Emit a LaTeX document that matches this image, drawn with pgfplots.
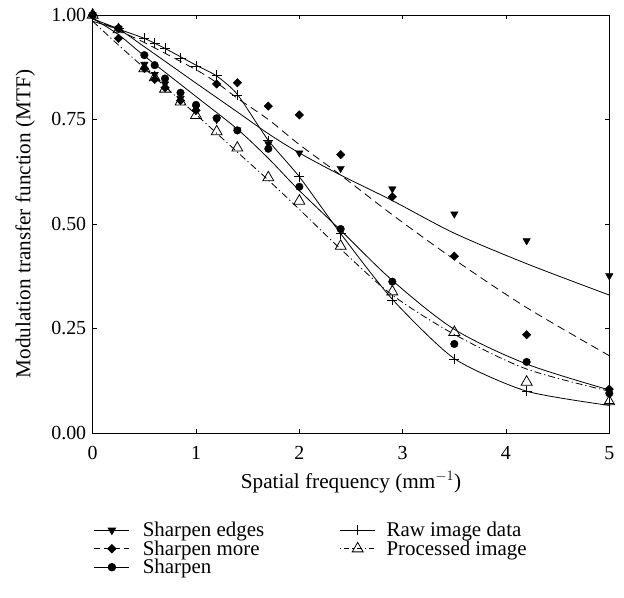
\documentclass[border=0pt]{standalone}
\usepackage{fontspec}
\setmainfont{Liberation Serif}
\usepackage{pgfplots}
\usepackage{pgfplotstable}
\pgfplotsset{compat=1.18}

% measured points
\pgfplotstableread{
x y
0 1.000
0.25 0.968
0.5 0.882
0.6 0.858
0.7 0.835
0.85 0.800
1.0 0.778
1.2 0.750
1.4 0.725
1.7 0.692
2.0 0.670
2.4 0.633
2.9 0.584
3.5 0.524
4.2 0.460
5.0 0.376
}\edgespts
\pgfplotstableread{
x y
0 1.000
0.25 0.944
0.5 0.872
0.6 0.846
0.7 0.826
0.85 0.795
1.0 0.772
1.2 0.835
1.4 0.838
1.7 0.782
2.0 0.761
2.4 0.666
2.9 0.565
3.5 0.423
4.2 0.235
5.0 0.105
}\morepts
\pgfplotstableread{
x y
0 1.000
0.25 0.968
0.5 0.904
0.6 0.880
0.7 0.848
0.85 0.814
1.0 0.785
1.2 0.753
1.4 0.724
1.7 0.680
2.0 0.589
2.4 0.488
2.9 0.362
3.5 0.213
4.2 0.170
5.0 0.095
}\sharppts
\pgfplotstableread{
x y
0 1.000
0.25 0.968
0.5 0.944
0.6 0.932
0.7 0.920
0.85 0.896
1.0 0.878
1.2 0.856
1.4 0.808
1.7 0.699
2.0 0.613
2.4 0.477
2.9 0.318
3.5 0.177
4.2 0.100
5.0 0.072
}\rawpts
\pgfplotstableread{
x y
0 1.000
0.25 0.965
0.5 0.872
0.6 0.850
0.7 0.823
0.85 0.792
1.0 0.760
1.2 0.721
1.4 0.682
1.7 0.611
2.0 0.555
2.4 0.447
2.9 0.338
3.5 0.241
4.2 0.122
5.0 0.075
}\procpts

% fitted curves
\pgfplotstableread{
x y
0 0.990
0.25 0.966
0.5 0.924
1.0 0.837
1.4 0.768
1.7 0.716
2.0 0.670
2.4 0.617
2.9 0.556
3.5 0.478
4.2 0.405
5.0 0.330
}\edgescurve
\pgfplotstableread{
x y
0 0.992
0.25 0.963
0.5 0.934
1.0 0.869
1.2 0.838
1.4 0.801
1.7 0.750
2.0 0.690
2.4 0.617
2.9 0.522
3.5 0.415
4.2 0.300
5.0 0.185
}\morecurve
\pgfplotstableread{
x y
0 0.992
0.25 0.953
0.5 0.902
1.0 0.805
1.4 0.727
1.7 0.657
2.0 0.580
2.4 0.485
2.9 0.365
3.5 0.248
4.2 0.165
5.0 0.103
}\sharpcurve
\pgfplotstableread{
x y
0 0.985
0.25 0.966
0.5 0.944
0.7 0.920
1.0 0.880
1.2 0.854
1.4 0.810
1.7 0.700
2.0 0.613
2.4 0.477
2.9 0.320
3.5 0.178
4.2 0.100
5.0 0.066
}\rawcurve
\pgfplotstableread{
x y
0 0.985
0.25 0.928
0.5 0.873
1.0 0.762
1.4 0.672
1.7 0.605
2.0 0.535
2.4 0.440
2.9 0.330
3.5 0.236
4.2 0.153
5.0 0.100
}\proccurve

\begin{document}
\begin{tikzpicture}
\begin{axis}[
  name=ax, at={(0,0)}, anchor=south west,
  scale only axis, width=516.6bp, height=418bp,
  xmin=0, xmax=5, ymin=0, ymax=1,
  xtick={0,1,2,3,4,5},
  ytick={0,0.25,0.5,0.75,1},
  tick align=inside, major tick length=4.5bp,
  axis line style={line width=0.8bp},
  every tick/.style={black, line width=0.8bp},
  /pgf/number format/assume math mode=true,
  yticklabel style={/pgf/number format/fixed, /pgf/number format/fixed zerofill, /pgf/number format/precision=2, xshift=-3bp},
  xticklabel style={yshift=-10bp},
  tick label style={font=\fontsize{20}{20}\selectfont},
  label style={font=\fontsize{21.3}{21.3}\selectfont},
  xlabel={Spatial frequency (mm$^{-1}$)},
  xlabel style={at={(axis description cs:0.5,0)}, anchor=base, yshift=-55bp},
  ylabel={Modulation transfer function (MTF)},
  ylabel style={at={(axis description cs:-0.1305,0.5)}, anchor=center, rotate=0},
  legend columns=2,
  legend cell align=left,
  legend image code/.code={\draw[#1,mark repeat=2,mark phase=2] plot coordinates {(0bp,0bp) (17.5bp,0bp) (35bp,0bp)};},
  legend style={at={(axis description cs:0.0025,-0.2122)}, anchor=north west,
    draw=none, fill=none, inner sep=0pt, outer sep=0pt,
    font=\fontsize{21}{21}\selectfont,
    nodes={inner sep=0pt, anchor=west, text height=15bp, text depth=2bp},
    row sep=1.5bp,
    /tikz/column 1/.style={column sep=13bp},
    /tikz/column 2/.style={column sep=14bp},
    /tikz/column 3/.style={column sep=11bp}},
]
% curves
\addplot[forget plot, black, line width=0.8bp, smooth, tension=0.5] table {\edgescurve};
\addplot[forget plot, black, line width=0.8bp, dash pattern=on 8bp off 5bp, smooth, tension=0.5] table {\morecurve};
\addplot[forget plot, black, line width=0.8bp, smooth, tension=0.5] table {\sharpcurve};
\addplot[forget plot, black, line width=0.8bp, smooth, tension=0.4] table {\rawcurve};
\addplot[forget plot, black, line width=0.8bp, dash pattern=on 7bp off 3bp on 1.2bp off 3bp, smooth, tension=0.5] table {\proccurve};
% markers
\addplot[forget plot, only marks, mark=triangle, mark size=6.3bp, mark options={fill=white, line width=0.8bp, solid}] table {\procpts};
\addplot[forget plot, only marks, mark=triangle*, mark size=4.3bp, mark options={rotate=180, fill=black, solid}] table {\edgespts};
\addplot[forget plot, only marks, mark=square*, mark size=3bp, mark options={rotate=45, fill=black, solid}] table {\morepts};
\addplot[forget plot, only marks, mark=+, mark size=5bp, mark options={line width=0.8bp, solid}] table {\rawpts};
\addplot[forget plot, only marks, mark=*, mark size=3.8bp, mark options={fill=black, solid}] table {\sharppts};
% legend (row-wise order)
\addlegendimage{black, line width=0.8bp, mark=triangle*, mark size=4.3bp, mark options={rotate=180, solid}}
\addlegendentry{\makebox[183bp][l]{Sharpen edges}}
\addlegendimage{black, line width=0.8bp, mark=+, mark size=5bp, mark options={solid}}
\addlegendentry{Raw image data}
\addlegendimage{black, line width=0.8bp, dash pattern=on 6bp off 4bp, mark=square*, mark size=3bp, mark options={rotate=45, solid}}
\addlegendentry{\makebox[183bp][l]{Sharpen more}}
\addlegendimage{black, line width=0.8bp, dash pattern=on 1.2bp off 3bp on 5bp off 3bp, mark=triangle, mark size=6.3bp, mark options={solid, fill=white}}
\addlegendentry{Processed image}
\addlegendimage{black, line width=0.8bp, mark=*, mark size=3.8bp, mark options={solid}}
\addlegendentry{\makebox[183bp][l]{Sharpen}}
\end{axis}
\pgfresetboundingbox
\path[use as bounding box] (-92.7bp,-165bp) rectangle (531.3bp,433bp);
\end{tikzpicture}
\end{document}
